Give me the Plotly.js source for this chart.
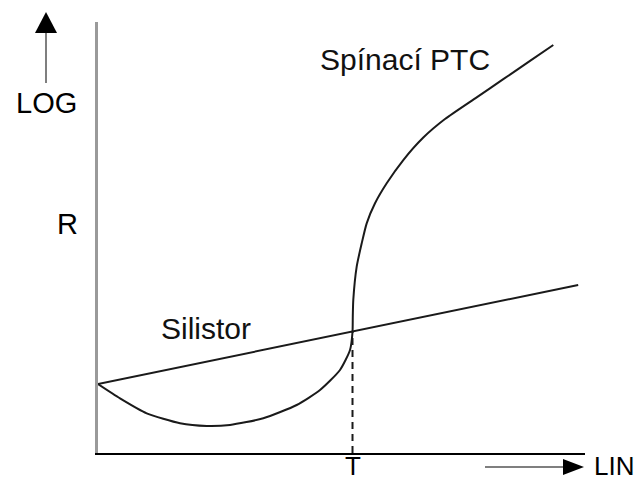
<!DOCTYPE html>
<html>
<head>
<meta charset="utf-8">
<script src="https://cdn.plot.ly/plotly-3.0.1.min.js"></script>
<style>html,body{margin:0;padding:0;background:#fff;}#chart{width:640px;height:482px;}</style>
</head>
<body>
<div id="chart"></div>
<script>
// ---- data (arbitrary units: x = temperature, linear; y = log R) ----
const ptcX = [0, 4.52, 10.0, 16.84, 22.32, 27.10, 33.94, 40.80, 45.59, 49.69, 51.75, 52.26, 52.32, 52.42, 53.12, 54.15, 55.17, 56.88, 59.28, 62.69, 66.80, 71.25, 77.76, 83.22, 88.71, 93.49];
const ptcY = [16.0, 12.69, 9.21, 6.89, 6.26, 6.50, 8.05, 11.14, 14.62, 19.26, 23.90, 28.07, 31.79, 35.50, 43.23, 48.65, 53.29, 57.94, 62.58, 67.98, 73.20, 77.49, 82.52, 86.73, 90.97, 94.66];
const silistorX = [0, 98.6];
const silistorY = [16.0, 39.0];
const tempT = 52.26;          // switching temperature T
const tempTY = 28.07;         // resistance at T (crossing point)
const seriesLabels = ['Spínací PTC', 'Silistor'];
const axisLabels = {y: ['LOG', 'R'], x: ['T', 'LIN']};

// ---- layout geometry ----
const W = 640, H = 482, L = 98, R = 55, T = 22, B = 29;
const pw = W - L - R, ph = H - T - B;
const px = v => (v - L) / pw;          // pixel x -> paper
const py = v => (H - B - v) / ph;      // pixel y -> paper

const lineCol = '#1a1a1a';
const font = 'Arial, "Liberation Sans", sans-serif';

const traces = [
  {x: ptcX, y: ptcY, mode: 'lines', line: {color: lineCol, width: 2, shape: 'spline', smoothing: 0.6}, hoverinfo: 'skip'},
  {x: silistorX, y: silistorY, mode: 'lines', line: {color: lineCol, width: 2}, hoverinfo: 'skip'},
  {x: [tempT, tempT], y: [0, tempTY], mode: 'lines', line: {color: lineCol, width: 2, dash: '7px,5px'}, hoverinfo: 'skip'}
];

const shapes = [
  // up arrow (LOG)
  {type: 'line', xref: 'paper', yref: 'paper', x0: px(46), x1: px(46), y0: py(83), y1: py(30), line: {color: '#555', width: 1.5}},
  {type: 'path', xref: 'paper', yref: 'paper',
   path: `M ${px(46)} ${py(12)} L ${px(35)} ${py(33)} L ${px(57)} ${py(33)} Z`, fillcolor: '#000', line: {width: 0}},
  // right arrow (LIN)
  {type: 'line', xref: 'paper', yref: 'paper', x0: px(485), x1: px(566), y0: py(467), y1: py(467), line: {color: '#555', width: 1.5}},
  {type: 'path', xref: 'paper', yref: 'paper',
   path: `M ${px(584)} ${py(467)} L ${px(563)} ${py(459)} L ${px(563)} ${py(475)} Z`, fillcolor: '#000', line: {width: 0}}
];

const annotations = [
  {text: seriesLabels[0], xref: 'x', yref: 'y', x: 45.2, y: 91.4, xanchor: 'left', yanchor: 'middle', showarrow: false, font: {family: font, size: 30, color: '#111'}},
  {text: seriesLabels[1], xref: 'x', yref: 'y', x: 12.5, y: 29.0, xanchor: 'left', yanchor: 'middle', showarrow: false, font: {family: font, size: 30, color: '#111'}},
  {text: axisLabels.y[0], xref: 'paper', yref: 'paper', x: px(46), y: py(103), xanchor: 'center', yanchor: 'middle', showarrow: false, font: {family: font, size: 29, color: '#000'}},
  {text: axisLabels.y[1], xref: 'paper', yref: 'paper', x: px(67), y: py(224), xanchor: 'center', yanchor: 'middle', showarrow: false, font: {family: font, size: 29, color: '#000'}},
  {text: axisLabels.x[0], xref: 'x', yref: 'paper', x: tempT, y: py(466), xanchor: 'center', yanchor: 'middle', showarrow: false, font: {family: font, size: 26, color: '#000'}},
  {text: axisLabels.x[1], xref: 'paper', yref: 'paper', x: px(592), y: py(466), xanchor: 'left', yanchor: 'middle', showarrow: false, font: {family: font, size: 26, color: '#000'}}
];

const layout = {
  width: W, height: H,
  margin: {l: L, r: R, t: T, b: B, pad: 0},
  paper_bgcolor: '#fff', plot_bgcolor: '#fff',
  showlegend: false,
  xaxis: {range: [0, 100], showgrid: false, zeroline: false, showticklabels: false, ticks: '',
          showline: true, linecolor: '#000', linewidth: 2, fixedrange: true},
  yaxis: {range: [0, 100], showgrid: false, zeroline: false, showticklabels: false, ticks: '',
          showline: true, linecolor: '#9a9a9a', linewidth: 3, fixedrange: true},
  shapes: shapes,
  annotations: annotations
};

Plotly.newPlot('chart', traces, layout, {staticPlot: true, displayModeBar: false});
</script>
</body>
</html>
